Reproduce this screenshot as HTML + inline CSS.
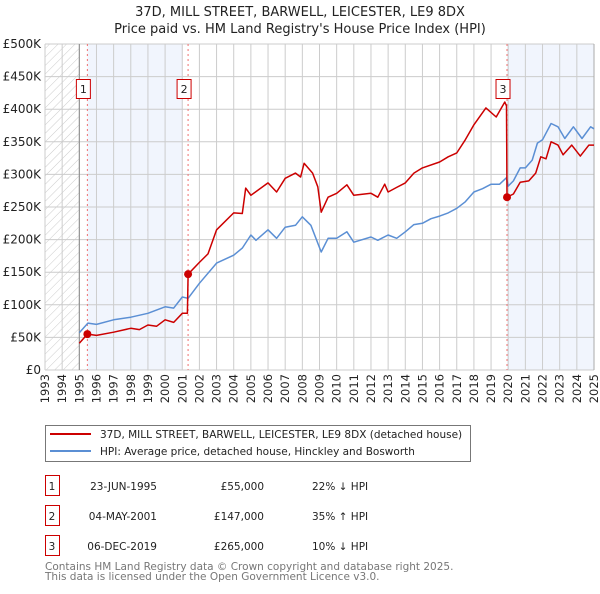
<!DOCTYPE html>
<html><head><meta charset="utf-8"><style>
body{margin:0;background:#fff;font-family:"DejaVu Sans","Liberation Sans",sans-serif;}
svg text{font-family:"DejaVu Sans","Liberation Sans",sans-serif;}
</style></head><body>
<svg id="c" width="600" height="590" xmlns="http://www.w3.org/2000/svg">
<defs><pattern id="hatch" width="6" height="6" patternUnits="userSpaceOnUse" patternTransform="rotate(45)"><line x1="0" y1="0" x2="0" y2="6" stroke="#ccc" stroke-width="1"/></pattern></defs>
<text x="300" y="16" text-anchor="middle" font-size="13" fill="#222">37D, MILL STREET, BARWELL, LEICESTER, LE9 8DX</text>
<text x="300" y="33" text-anchor="middle" font-size="13" fill="#222">Price paid vs. HM Land Registry's House Price Index (HPI)</text>
<g id="plot"></g>
<g>
<rect x="45.5" y="425.5" width="425" height="36" fill="#fff" stroke="#777"/>
<line x1="50" y1="434" x2="91" y2="434" stroke="#cc0000" stroke-width="2"/>
<text x="100" y="438" font-size="10.5" fill="#222">37D, MILL STREET, BARWELL, LEICESTER, LE9 8DX (detached house)</text>
<line x1="50" y1="451" x2="91" y2="451" stroke="#5b8fd4" stroke-width="2"/>
<text x="100" y="455" font-size="10.5" fill="#222">HPI: Average price, detached house, Hinckley and Bosworth</text>
</g>
<g id="table"></g>
<text x="45" y="570" font-size="10.5" fill="#777">Contains HM Land Registry data © Crown copyright and database right 2025.</text>
<text x="45" y="580" font-size="10.5" fill="#777">This data is licensed under the Open Government Licence v3.0.</text>
</svg>
<script>
const yTicks=[0,50,100,150,200,250,300,350,400,450,500];
const yTickLabels=["£0","£50K","£100K","£150K","£200K","£250K","£300K","£350K","£400K","£450K","£500K"];
const years=[1993,1994,1995,1996,1997,1998,1999,2000,2001,2002,2003,2004,2005,2006,2007,2008,2009,2010,2011,2012,2013,2014,2015,2016,2017,2018,2019,2020,2021,2022,2023,2024,2025];
const hpiDates=[1995.0,1995.5,1996,1997,1998,1999,2000,2000.5,2001,2001.34,2002,2003,2004,2004.5,2005,2005.3,2006,2006.5,2007,2007.6,2008,2008.5,2009.1,2009.5,2010,2010.6,2011,2012,2012.4,2013,2013.5,2014,2014.5,2015,2015.5,2016,2016.5,2017,2017.5,2018,2018.5,2019,2019.5,2019.9,2020,2020.3,2020.7,2021,2021.4,2021.7,2022,2022.5,2022.9,2023.3,2023.8,2024.3,2024.8,2025];
const hpiValues=[57,72,70,77,81,87,97,95,112,110,133,164,176,187,207,199,215,202,219,222,235,222,181,202,202,212,196,204,199,207,202,212,223,225,232,236,241,248,258,273,278,285,285,295,282,290,310,310,322,348,353,378,373,355,373,355,373,370];
const priceDates=[1995.0,1995.47,1996,1997,1998,1998.5,1999,1999.5,2000,2000.5,2001,2001.3,2001.34,2002,2002.5,2003,2004,2004.5,2004.7,2005,2006,2006.5,2007,2007.6,2007.9,2008.1,2008.6,2008.9,2009.1,2009.5,2010,2010.6,2011,2012,2012.4,2012.8,2013,2013.5,2014,2014.5,2015,2016,2016.5,2017,2017.5,2018,2018.7,2019.3,2019.8,2019.9,2019.93,2020.3,2020.7,2021.2,2021.6,2021.9,2022.2,2022.5,2022.9,2023.2,2023.7,2024.2,2024.7,2025];
const priceValues=[41,55,53,58,64,62,69,67,77,73,87,87,147,165,178,215,241,240,279,268,287,273,294,302,296,317,302,281,242,265,271,284,268,271,265,285,273,280,287,302,310,319,327,333,353,376,402,388,411,405,265,270,288,290,302,327,324,350,345,330,345,328,345,345];
const saleDates=[1995.47,2001.34,2019.93];
const salePrices=[55,147,265];
const saleLabels=["1","2","3"];
const saleDateText=["23-JUN-1995","04-MAY-2001","06-DEC-2019"];
const salePriceText=["£55,000","£147,000","£265,000"];
const saleHpiText=["22% ↓ HPI","35% ↑ HPI","10% ↓ HPI"];

const NS="http://www.w3.org/2000/svg";
const X0=45,X1=594,Y0=370,Y1=44;
const xs=t=>X0+(t-1993)/(2025-1993)*(X1-X0);
const ys=v=>Y0-v/500*(Y0-Y1);
const plot=document.getElementById('plot');
function mk(tag,attrs,parent){const e=document.createElementNS(NS,tag);for(const k in attrs)e.setAttribute(k,attrs[k]);(parent||plot).appendChild(e);return e;}

let e;
e=mk('rect',{x:xs(1993),y:Y1,width:xs(1995)-xs(1993),height:Y0-Y1,fill:'url(#hatch)'});


e=mk('rect',{x:xs(saleDates[0]),y:Y1,width:xs(2001)-xs(saleDates[0]),height:Y0-Y1,fill:'#eef3fc',opacity:0.8});


e=mk('rect',{x:xs(saleDates[2]),y:Y1,width:xs(2025)-xs(saleDates[2]),height:Y0-Y1,fill:'#eef3fc',opacity:0.8});



years.forEach(y=>{
  const g=mk('line',{x1:xs(y),x2:xs(y),y1:Y1,y2:Y0,stroke:'#ccc','stroke-width':1});
  
  
  const t=mk('text',{x:0,y:0,'font-size':11.5,fill:'#222','text-anchor':'end',transform:`translate(${xs(y)+4},374) rotate(-90)`});
  t.textContent=y;
  
  
});
yTicks.forEach((v,i)=>{
  const g=mk('line',{x1:X0,x2:X1,y1:ys(v),y2:ys(v),stroke:'#ccc','stroke-width':1});
  
  
  const t=mk('text',{x:41,y:ys(v)+4,'font-size':12,fill:'#222','text-anchor':'end'});
  t.textContent=yTickLabels[i];
  
  
});
e=mk('line',{x1:xs(1995),x2:xs(1995),y1:Y1,y2:Y0,stroke:'#888','stroke-width':1});


e=mk('line',{x1:X1,x2:X1,y1:Y1,y2:Y0,stroke:'#aaa','stroke-width':1});



saleDates.forEach((d,i)=>{
  const l=mk('line',{x1:xs(d),x2:xs(d),y1:Y1,y2:Y0,stroke:'#f07070','stroke-width':1,'stroke-dasharray':'2,3'});
  
  
});

const pts=(ds,vs)=>ds.map((d,i)=>xs(d).toFixed(1)+','+ys(vs[i]).toFixed(1)).join(' ');
e=mk('polyline',{points:pts(hpiDates,hpiValues),fill:'none',stroke:'#5b8fd4','stroke-width':1.5,'stroke-linejoin':'round'});


e=mk('polyline',{points:pts(priceDates,priceValues),fill:'none',stroke:'#cc0000','stroke-width':1.5,'stroke-linejoin':'round'});



saleDates.forEach((d,i)=>{
  const c=mk('circle',{cx:xs(d),cy:ys(salePrices[i]),r:4,fill:'#cc0000'});
  
  
  const bx=xs(d)-11;
  const r=mk('rect',{x:bx,y:79.5,width:14,height:19,fill:'#fff',stroke:'#cc0000','stroke-width':1});
  
  
  const t=mk('text',{x:bx+7,y:93,'font-size':11,fill:'#222','text-anchor':'middle'});
  t.textContent=saleLabels[i];
  
  
});

const tb=document.getElementById('table');
saleLabels.forEach((s,i)=>{
  const y=476+i*30;
  const r=mk('rect',{x:45.5,y:y-0.5,width:14,height:20,fill:'#fff',stroke:'#cc0000'},tb);
  
  
  const cells=[[52,s,'middle'],[157,saleDateText[i],'end'],[264,salePriceText[i],'end'],[312,saleHpiText[i],'start']];
  cells.forEach(([x,txt,a],j)=>{
    const t=mk('text',{x:x,y:y+14,'font-size':10.5,fill:'#222','text-anchor':a},tb);
    t.textContent=txt;
    
    
  });
});
</script>
</body></html>
